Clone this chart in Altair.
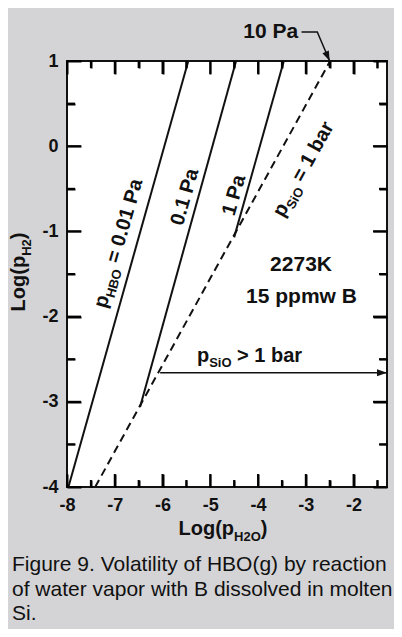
import altair as alt
import pandas as pd

# ---------------- data ----------------
X_DOMAIN = [-8.0, -1.3]
Y_DOMAIN = [-4.0, 1.0]
X_MAJOR = [-8, -7, -6, -5, -4, -3, -2]
X_MINOR = [-7.5, -6.5, -5.5, -4.5, -3.5, -2.5, -1.5]
Y_MAJOR = [-4, -3, -2, -1, 0, 1]
Y_MINOR = [-3.5, -2.5, -1.5, -0.5, 0.5]

# iso-pressure lines of p_HBO (solid)
HBO_SERIES = ["0.01 Pa", "0.1 Pa", "1 Pa"]
HBO_X_START = [-7.97, -6.47, -4.50]
HBO_Y_START = [-4.00, -3.06, -1.07]
HBO_X_END = [-5.46, -4.46, -3.46]
HBO_Y_END = [1.0, 1.0, 1.0]

# p_SiO = 1 bar boundary (dashed)
SIO_X = [-7.41, -2.49]
SIO_Y = [-4.0, 1.0]

# p_SiO > 1 bar arrow
ARROW_X = [-6.05, -1.3]
ARROW_Y = [-2.66, -2.66]

# "10 Pa" pointer
POINTER_X = [-3.09, -2.76, -2.50]
POINTER_Y = [1.34, 1.34, 1.0]

CAPTION_LINES = [
    "Figure 9. Volatility of HBO(g) by reaction",
    "of water vapor with B dissolved in molten",
    "Si.",
]

# ---------------- styling / layout ----------------
FONT = "Liberation Sans"
W, H = 320, 426
BG = "#d4d4d6"
INK = "#111111"
ARROW_PATH = "M0,0L-1,-0.35L-1,0.35Z"
PX_X = W / (X_DOMAIN[1] - X_DOMAIN[0])
PX_Y = H / (Y_DOMAIN[1] - Y_DOMAIN[0])

BOLD_W = {'p': .611, 'H': .722, 'B': .722, 'O': .778, ' ': .278,
          '=': .584, '0': .556, '.': .278, '1': .556, 'P': .667, 'a': .556,
          'S': .667, 'i': .278, 'b': .611, 'r': .389, '>': .584, 'L': .611,
          'o': .611, 'g': .611, '(': .333, ')': .333, '2': .556, 'K': .722,
          '5': .556, '7': .556, '3': .556, 'm': .889, 'w': .778}


def tw(s, size):
    return sum(BOLD_W.get(c, 0.556) for c in s) * size


xscale = alt.Scale(domain=X_DOMAIN, nice=False, zero=False)
yscale = alt.Scale(domain=Y_DOMAIN, nice=False, zero=False)
X = alt.X("x:Q", scale=xscale, axis=None)
Y = alt.Y("y:Q", scale=yscale, axis=None)


def frame_axis(orient, values, size, labels):
    # ticks drawn inward: the axis is shifted into the plot by the tick length
    kw = dict(orient=orient, values=values, title=None, grid=False, domain=False,
              ticks=True, tickSize=size, tickWidth=2, tickColor="#000000", offset=-size,
              labels=labels, zindex=1)
    if labels:
        kw.update(labelFont=FONT, labelFontSize=18, labelFontWeight="bold",
                  labelColor=INK, labelPadding=9, labelFlush=False,
                  labelOverlap=False, labelExpr="datum.value + ''")
    return alt.Axis(**kw)


frame_df = pd.DataFrame({"x": SIO_X, "y": SIO_Y})
layers = []
for xo, yo, xv, yv, xs, ys, lab in [
    ("bottom", "left", X_MAJOR, Y_MAJOR, 13, 14, True),
    ("top", "right", X_MAJOR, Y_MAJOR, 13, 14, False),
    ("bottom", "left", X_MINOR, Y_MINOR, 7, 8, False),
    ("top", "right", X_MINOR, Y_MINOR, 7, 8, False),
]:
    layers.append(
        alt.Chart(frame_df).mark_point(opacity=0, size=1).encode(
            x=alt.X("x:Q", scale=xscale, axis=frame_axis(xo, xv, xs, lab)),
            y=alt.Y("y:Q", scale=yscale, axis=frame_axis(yo, yv, ys, lab)),
        )
    )

# solid HBO lines
rows = []
for n, xs_, ys_, xe, ye in zip(HBO_SERIES, HBO_X_START, HBO_Y_START, HBO_X_END, HBO_Y_END):
    rows.append({"s": n, "x": xs_, "y": ys_})
    rows.append({"s": n, "x": xe, "y": ye})
layers.append(alt.Chart(pd.DataFrame(rows)).mark_line(color=INK, strokeWidth=2)
              .encode(x=X, y=Y, detail="s:N"))

# dashed SiO line
layers.append(alt.Chart(pd.DataFrame({"x": SIO_X, "y": SIO_Y}))
              .mark_line(color=INK, strokeWidth=2, strokeDash=[8, 5]).encode(x=X, y=Y))

# arrow p_SiO > 1 bar
layers.append(alt.Chart(pd.DataFrame({"x": ARROW_X, "y": ARROW_Y}))
              .mark_line(color=INK, strokeWidth=1.5).encode(x=X, y=Y))
layers.append(alt.Chart(pd.DataFrame({"x": ARROW_X[-1:], "y": ARROW_Y[-1:]}))
              .mark_point(shape=ARROW_PATH, size=400, filled=True, color=INK, opacity=1,
                          strokeWidth=0).encode(x=X, y=Y))

# 10 Pa pointer
layers.append(alt.Chart(pd.DataFrame({"x": POINTER_X, "y": POINTER_Y, "o": [0, 1, 2]}))
              .mark_line(color=INK, strokeWidth=1.5).encode(x=X, y=Y, order="o:Q"))
layers.append(alt.Chart(pd.DataFrame({"x": POINTER_X[-1:], "y": POINTER_Y[-1:]}))
              .mark_point(shape=ARROW_PATH, size=400, filled=True, color=INK, opacity=1,
                          strokeWidth=0, angle=66).encode(x=X, y=Y))


def label(pieces, x, y, angle=0, mode="center", pixel=False, weight="bold"):
    # each piece: (text, size, dy); leading spaces become extra offset
    total = sum(tw(t, s) for t, s, _ in pieces)
    off = {"center": -total / 2, "left": 0, "right": -total}[mode]
    d = pd.DataFrame({"x": [x], "y": [y]})
    out = []
    for t, s, dy in pieces:
        lead = len(t) - len(t.lstrip(" "))
        off += lead * BOLD_W[" "] * s
        t2 = t.lstrip(" ")
        kw = dict(text=t2, fontSize=s, fontWeight=weight, font=FONT, align="left",
                  baseline="alphabetic", dx=off, dy=dy, color=INK)
        if angle:
            kw["angle"] = angle
        m = alt.Chart(d).mark_text(**kw)
        if pixel:
            m = m.encode(x=alt.value(x), y=alt.value(y))
        else:
            m = m.encode(x=X, y=Y)
        out.append(m)
        off += tw(t2, s)
    return out


SUB = 13
layers += label([("p", 20, 0), ("HBO", SUB, 5), (" = 0.01 Pa", 20, 0)], -6.80, -1.16, angle=286)
layers += label([("0.1 Pa", 20, 0)], -5.41, -0.615, angle=286)
layers += label([("1 Pa", 20, 0)], -4.38, -0.595, angle=286)
layers += label([("p", 20, 0), ("SiO", SUB, 5), (" = 1 bar", 20, 0)], -2.94, -0.306, angle=299)
layers += label([("2273K", 21, 0)], -3.10, -1.461)
layers += label([("15 ppmw B", 21, 0)], -3.09, -1.844)
layers += label([("p", 20, 0), ("SiO", SUB, 5), (" > 1 bar", 20, 0)], -5.28, -2.529, mode="left")
layers += label([("10 Pa", 21, 0)], -3.16, 1.266, mode="right")

# axis titles with subscripts (pixel positions relative to the plot)
layers += label([("Log(p", 20, 0), ("H2O", SUB, 6), (")", 20, 0)], 156, 474, pixel=True)
layers += label([("Log(p", 20, 0), ("H2", SUB, 6), (")", 20, 0)], -42, 211, angle=270, pixel=True)

# caption
layers.append(alt.Chart(pd.DataFrame({"x": [0]})).mark_text(
    text=CAPTION_LINES, font=FONT, fontSize=21, fontWeight="normal", align="left",
    baseline="alphabetic", lineHeight=24.5, color=INK)
    .encode(x=alt.value(-55), y=alt.value(510)))

# inward ticks drawn once more as two-point segments (tick length in data units)
trows = []
k = 0
for vals, ln in [(X_MAJOR, 13), (X_MINOR, 7)]:
    for v in vals:
        for base, sgn in [(Y_DOMAIN[0], 1), (Y_DOMAIN[1], -1)]:
            trows.append({"t": k, "o": 0, "x": v, "y": base})
            trows.append({"t": k, "o": 1, "x": v, "y": base + sgn * ln / PX_Y})
            k += 1
for vals, ln in [(Y_MAJOR, 14), (Y_MINOR, 8)]:
    for v in vals:
        for base, sgn in [(X_DOMAIN[0], 1), (X_DOMAIN[1], -1)]:
            trows.append({"t": k, "o": 0, "x": base, "y": v})
            trows.append({"t": k, "o": 1, "x": base + sgn * ln / PX_X, "y": v})
            k += 1
layers.append(alt.Chart(pd.DataFrame(trows)).mark_line(color="#000000", strokeWidth=2)
              .encode(x=X, y=Y, detail="t:N", order="o:Q"))

chart = alt.layer(*layers).resolve_axis(x="independent", y="independent").properties(
    width=W, height=H,
    padding={"left": 59, "top": 53, "right": 7, "bottom": 142},
    autosize=alt.AutoSizeParams(type="none"),
    background=BG,
).configure_view(stroke=INK, strokeWidth=2, fill="white")

chart.save("out.html", embed_options={"renderer": "svg", "actions": False})
